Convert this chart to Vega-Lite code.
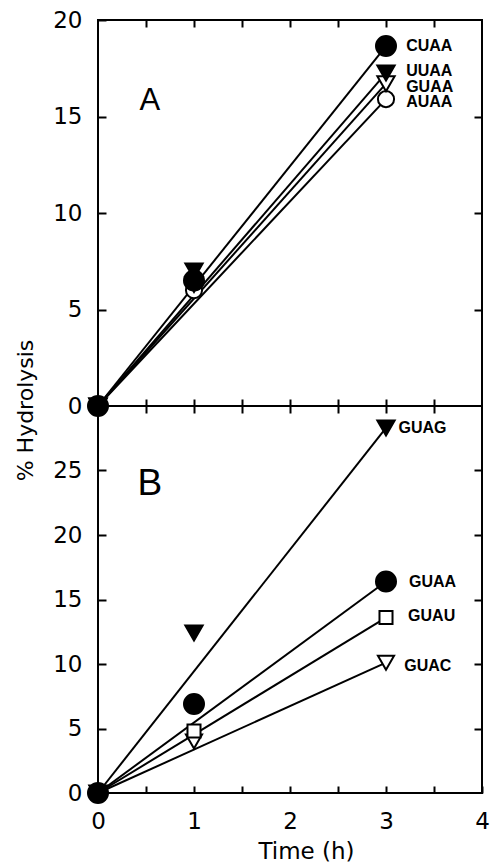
{
  "$schema": "https://vega.github.io/schema/vega-lite/v6.json",
  "padding": {"left": 12, "top": 8, "right": 5, "bottom": 5},
  "bounds": "flush",
  "spacing": 0,
  "background": "white",
  "config": {
    "view": {"stroke": "black", "strokeWidth": 2},
    "axis": {
      "domain": false, "grid": false, "tickColor": "black", "tickWidth": 2,
      "labelFont": "DejaVu Sans", "labelFontSize": 23, "labelColor": "black",
      "labelFlush": false, "labelOverlap": false,
      "titleFont": "DejaVu Sans", "titleFontSize": 22, "titleFontWeight": "normal", "titleColor": "black"
    }
  },
  "datasets": {
    "A_pts": [
      {"series": "AUAA", "time": 0, "value": 0}, {"series": "AUAA", "time": 1, "value": 6.0}, {"series": "AUAA", "time": 3, "value": 15.9},
      {"series": "GUAA", "time": 0, "value": 0}, {"series": "GUAA", "time": 1, "value": 6.3}, {"series": "GUAA", "time": 3, "value": 16.7},
      {"series": "UUAA", "time": 0, "value": 0}, {"series": "UUAA", "time": 1, "value": 7.0}, {"series": "UUAA", "time": 3, "value": 17.25},
      {"series": "CUAA", "time": 0, "value": 0}, {"series": "CUAA", "time": 1, "value": 6.5}, {"series": "CUAA", "time": 3, "value": 18.65}
    ],
    "A_fit": [
      {"series": "AUAA", "time": 0, "value": 0}, {"series": "AUAA", "time": 3, "value": 15.9},
      {"series": "GUAA", "time": 0, "value": 0}, {"series": "GUAA", "time": 3, "value": 16.7},
      {"series": "UUAA", "time": 0, "value": 0}, {"series": "UUAA", "time": 3, "value": 17.25},
      {"series": "CUAA", "time": 0, "value": 0}, {"series": "CUAA", "time": 3, "value": 18.65}
    ],
    "A_lab": [
      {"label": "CUAA", "time": 3.21, "value": 18.65},
      {"label": "UUAA", "time": 3.21, "value": 17.35},
      {"label": "GUAA", "time": 3.21, "value": 16.55},
      {"label": "AUAA", "time": 3.21, "value": 15.75}
    ],
    "A_letter": [{"label": "A", "time": 0.54, "value": 15.8}],
    "B_pts": [
      {"series": "GUAC", "time": 0, "value": 0}, {"series": "GUAC", "time": 1, "value": 4.0}, {"series": "GUAC", "time": 3, "value": 10.1},
      {"series": "GUAU", "time": 0, "value": 0}, {"series": "GUAU", "time": 1, "value": 4.8}, {"series": "GUAU", "time": 3, "value": 13.6},
      {"series": "GUAG", "time": 0, "value": 0}, {"series": "GUAG", "time": 1, "value": 12.4}, {"series": "GUAG", "time": 3, "value": 28.3},
      {"series": "GUAA", "time": 0, "value": 0}, {"series": "GUAA", "time": 1, "value": 6.9}, {"series": "GUAA", "time": 3, "value": 16.4}
    ],
    "B_fit": [
      {"series": "GUAC", "time": 0, "value": 0}, {"series": "GUAC", "time": 3, "value": 10.1},
      {"series": "GUAU", "time": 0, "value": 0}, {"series": "GUAU", "time": 3, "value": 13.6},
      {"series": "GUAG", "time": 0, "value": 0}, {"series": "GUAG", "time": 3, "value": 28.3},
      {"series": "GUAA", "time": 0, "value": 0}, {"series": "GUAA", "time": 3, "value": 16.4}
    ],
    "B_lab": [
      {"label": "GUAG", "time": 3.13, "value": 28.3},
      {"label": "GUAA", "time": 3.24, "value": 16.35},
      {"label": "GUAU", "time": 3.23, "value": 13.7},
      {"label": "GUAC", "time": 3.19, "value": 9.85}
    ],
    "B_letter": [{"label": "B", "time": 0.54, "value": 23.95}]
  },
  "resolve": {"scale": {"shape": "independent", "fill": "independent", "size": "independent"}},
  "vconcat": [
    {
      "width": 384,
      "height": 386,
      "resolve": {"axis": {"x": "independent", "y": "independent"}},
      "layer": [
        {
          "data": {"name": "A_fit"},
          "mark": {"type": "line", "color": "black", "strokeWidth": 2},
          "encoding": {
            "x": {"field": "time", "type": "quantitative", "scale": {"domain": [0, 4], "nice": false},
              "axis": {"orient": "bottom", "values": [0.5, 1, 1.5, 2, 2.5, 3, 3.5], "tickSize": -7, "labels": false, "title": null}},
            "y": {"field": "value", "type": "quantitative", "scale": {"domain": [0, 20], "nice": false},
              "axis": {"orient": "left", "values": [0, 5, 10, 15, 20], "tickSize": -8, "labelPadding": 24, "format": "d", "title": null}},
            "detail": {"field": "series"}
          }
        },
        {
          "data": {"name": "A_pts"},
          "mark": {"type": "point", "filled": true, "stroke": "black", "strokeWidth": 2, "opacity": 1},
          "encoding": {
            "x": {"field": "time", "type": "quantitative",
              "axis": {"orient": "top", "values": [0.5, 1, 1.5, 2, 2.5, 3, 3.5], "tickSize": -7, "labels": false, "title": null}},
            "y": {"field": "value", "type": "quantitative",
              "axis": {"orient": "right", "values": [5, 10, 15], "tickSize": -8, "labels": false, "title": null}},
            "shape": {"field": "series", "type": "nominal", "legend": null,
              "scale": {"domain": ["CUAA", "UUAA", "GUAA", "AUAA"], "range": ["circle", "triangle-down", "triangle-down", "circle"]}},
            "fill": {"field": "series", "type": "nominal", "legend": null,
              "scale": {"domain": ["CUAA", "UUAA", "GUAA", "AUAA"], "range": ["black", "black", "white", "white"]}},
            "size": {"field": "series", "type": "nominal", "legend": null,
              "scale": {"type": "ordinal", "domain": ["CUAA", "UUAA", "GUAA", "AUAA"], "range": [400, 300, 300, 260]}}
          }
        },
        {
          "data": {"name": "A_lab"},
          "mark": {"type": "text", "align": "left", "baseline": "middle", "font": "Liberation Sans", "fontWeight": "bold", "fontSize": 16, "color": "black"},
          "encoding": {
            "x": {"field": "time", "type": "quantitative", "axis": null},
            "y": {"field": "value", "type": "quantitative", "axis": null},
            "text": {"field": "label"}
          }
        },
        {
          "data": {"name": "A_letter"},
          "mark": {"type": "text", "align": "center", "baseline": "middle", "font": "Liberation Sans", "fontSize": 31, "color": "black"},
          "encoding": {
            "x": {"field": "time", "type": "quantitative", "axis": null},
            "y": {"field": "value", "type": "quantitative", "axis": null},
            "text": {"field": "label"}
          }
        }
      ]
    },
    {
      "width": 384,
      "height": 387,
      "resolve": {"axis": {"x": "independent", "y": "independent"}},
      "layer": [
        {
          "data": {"name": "B_fit"},
          "mark": {"type": "line", "color": "black", "strokeWidth": 2},
          "encoding": {
            "x": {"field": "time", "type": "quantitative", "scale": {"domain": [0, 4], "nice": false},
              "axis": {"orient": "bottom", "values": [0, 0.5, 1, 1.5, 2, 2.5, 3, 3.5, 4], "tickSize": -7,
                "labelExpr": "datum.value % 1 === 0 ? format(datum.value, 'd') : ''", "labelPadding": 24,
                "encode": {"ticks": {"update": {"y2": {"signal": "datum.value % 1 === 0 ? -7 : -4"}}}},
                "title": "Time (h)", "titleX": 208, "titleY": 65, "titleBaseline": "alphabetic", "titleAlign": "center", "titleFontSize": 23}},
            "y": {"field": "value", "type": "quantitative", "scale": {"domain": [0, 30], "nice": false},
              "axis": {"orient": "left", "values": [0, 5, 10, 15, 20, 25], "tickSize": -8, "labelPadding": 24, "format": "d",
                "title": "% Hydrolysis", "titleX": -66, "titleY": 4, "titleAngle": 270, "titleBaseline": "alphabetic", "titleAlign": "center"}},
            "detail": {"field": "series"}
          }
        },
        {
          "data": {"name": "B_pts"},
          "mark": {"type": "point", "filled": true, "stroke": "black", "strokeWidth": 2, "opacity": 1},
          "encoding": {
            "x": {"field": "time", "type": "quantitative",
              "axis": {"orient": "top", "values": [0.5, 1, 1.5, 2, 2.5, 3, 3.5], "tickSize": -7, "labels": false, "title": null}},
            "y": {"field": "value", "type": "quantitative",
              "axis": {"orient": "right", "values": [5, 10, 15, 20, 25], "tickSize": -8, "labels": false, "title": null}},
            "shape": {"field": "series", "type": "nominal", "legend": null,
              "scale": {"domain": ["GUAG", "GUAA", "GUAU", "GUAC"], "range": ["triangle-down", "circle", "square", "triangle-down"]}},
            "fill": {"field": "series", "type": "nominal", "legend": null,
              "scale": {"domain": ["GUAG", "GUAA", "GUAU", "GUAC"], "range": ["black", "black", "white", "white"]}},
            "size": {"field": "series", "type": "nominal", "legend": null,
              "scale": {"type": "ordinal", "domain": ["GUAG", "GUAA", "GUAU", "GUAC"], "range": [300, 400, 170, 260]}}
          }
        },
        {
          "data": {"name": "B_lab"},
          "mark": {"type": "text", "align": "left", "baseline": "middle", "font": "Liberation Sans", "fontWeight": "bold", "fontSize": 16, "color": "black"},
          "encoding": {
            "x": {"field": "time", "type": "quantitative", "axis": null},
            "y": {"field": "value", "type": "quantitative", "axis": null},
            "text": {"field": "label"}
          }
        },
        {
          "data": {"name": "B_letter"},
          "mark": {"type": "text", "align": "center", "baseline": "middle", "font": "Liberation Sans", "fontSize": 37, "color": "black"},
          "encoding": {
            "x": {"field": "time", "type": "quantitative", "axis": null},
            "y": {"field": "value", "type": "quantitative", "axis": null},
            "text": {"field": "label"}
          }
        }
      ]
    }
  ]
}
